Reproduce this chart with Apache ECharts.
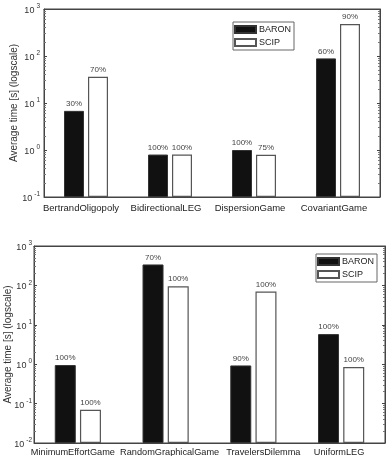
<!DOCTYPE html>
<html>
<head>
<meta charset="utf-8">
<script src="https://cdn.jsdelivr.net/npm/echarts@6/dist/echarts.min.js"></script>
<style>
  html, body { margin: 0; padding: 0; background: #fff; }
  #chart { width: 387px; height: 456px; }
</style>
</head>
<body>
<div id="chart"></div>
<script>
// data
const topCats = ['BertrandOligopoly', 'BidirectionalLEG', 'DispersionGame', 'CovariantGame']
const topBaron = [6.8, 0.8, 1.0, 89]
const topScip = [36, 0.8, 0.79, 480]
const topBaronPct = ['30%', '100%', '100%', '60%']
const topScipPct = ['70%', '100%', '75%', '90%']

const botCats = ['MinimumEffortGame', 'RandomGraphicalGame', 'TravelersDilemma', 'UniformLEG']
const botBaron = [0.95, 340, 0.93, 5.8]
const botScip = [0.07, 95, 70, 0.85]
const botBaronPct = ['100%', '70%', '90%', '100%']
const botScipPct = ['100%', '100%', '100%', '100%']

// horizontal nudge of the category labels (px), the original ones are not centred
const topShift = [-5, -4, -4, -4]
const botShift = [-5, 4, 10, -2]

const FONT = 'Liberation Sans'
const AX = '#444'

const chart = echarts.init(document.getElementById('chart'))

// 10^n labels
function powLabel(v) {
  const e = Math.round(Math.log10(v))
  return '{b|10}{s|' + e + '}'
}
const powRich = {
  b: { fontSize: 9, fontFamily: FONT, color: '#333', padding: [3, 0, 0, 0] },
  s: { fontSize: 6.5, padding: [0, 0, 5, 2], fontFamily: FONT, color: '#333' }
}

function catItems(cats, shift) {
  return cats.map((c, i) => {
    const d = shift[i] * 2
    return { value: c, textStyle: { padding: d >= 0 ? [0, 0, 0, d] : [0, -d, 0, 0] } }
  })
}

function xAxes(cats, shift, gi, margin, fs) {
  return [
    {
      type: 'category', gridIndex: gi, data: catItems(cats, shift), position: 'bottom',
      axisLine: { lineStyle: { color: AX } },
      axisTick: { alignWithLabel: true, inside: true, length: 3, lineStyle: { color: AX } },
      axisLabel: { color: '#222', fontSize: fs, fontFamily: FONT, margin: margin, interval: 0, hideOverlap: false }
    },
    {
      type: 'category', gridIndex: gi, data: cats, position: 'top',
      axisLine: { show: true, lineStyle: { color: AX } },
      axisTick: { alignWithLabel: true, inside: true, length: 3, lineStyle: { color: AX } },
      axisLabel: { show: false }
    }
  ]
}

function yAxes(gi, min, nameGap, margin) {
  const minor = { show: true, splitNumber: 9, length: 2, lineStyle: { color: '#777' } }
  return [
    {
      type: 'log', gridIndex: gi, min: min, max: 1000, logBase: 10, startValue: min,
      name: 'Average time [s] (logscale)', nameLocation: 'middle', nameGap: nameGap,
      nameMoveOverlap: false,
      nameTextStyle: { color: '#333', fontSize: 10, fontFamily: FONT },
      axisLine: { show: true, lineStyle: { color: AX } },
      axisTick: { show: true, inside: true, length: 3, lineStyle: { color: AX } },
      minorTick: minor,
      splitLine: { show: false },
      axisLabel: { formatter: powLabel, rich: powRich, color: '#333', fontSize: 9, fontFamily: FONT, margin: margin }
    },
    {
      type: 'log', gridIndex: gi, min: min, max: 1000, logBase: 10, position: 'right',
      axisLine: { show: true, lineStyle: { color: AX } },
      axisTick: { show: true, inside: true, length: 3, lineStyle: { color: AX } },
      minorTick: minor,
      splitLine: { show: false },
      axisLabel: { show: false }
    }
  ]
}

function barSeries(name, data, pct, xi, yi, filled, width) {
  return {
    name: name, type: 'bar', xAxisIndex: xi, yAxisIndex: yi,
    data: data, barWidth: width, barGap: '20%',
    itemStyle: filled
      ? { color: '#111', borderColor: '#333', borderWidth: 1 }
      : { color: '#fff', borderColor: '#555', borderWidth: 1.2 },
    label: {
      show: true, position: 'top', distance: 3,
      formatter: p => pct[p.dataIndex],
      color: '#444', fontSize: 8, fontFamily: FONT
    }
  }
}

function legend(left, top) {
  return {
    left: left, top: top, orient: 'vertical',
    itemWidth: 21, itemHeight: 7, itemGap: 4,
    padding: [3, 3, 3, 1],
    backgroundColor: '#fff', borderColor: '#666', borderWidth: 1, borderRadius: 0,
    icon: 'rect',
    textStyle: { color: '#222', fontSize: 9, fontFamily: FONT, padding: [0, 0, 0, -2] },
    data: ['BARON', 'SCIP']
  }
}

const xs1 = xAxes(topCats, topShift, 0, 6, 9.5)
const xs2 = xAxes(botCats, botShift, 1, 5, 9.2)
const ys1 = yAxes(0, 0.1, 25, 4)
const ys2 = yAxes(1, 0.01, 21, 2)

chart.setOption({
  animation: false,
  textStyle: { fontFamily: FONT },
  grid: [
    { left: 44, top: 9, width: 336, height: 188, outerBoundsMode: 'none', show: true, borderColor: AX, borderWidth: 1, backgroundColor: 'transparent' },
    { left: 34, top: 246, width: 351, height: 197, outerBoundsMode: 'none', show: true, borderColor: AX, borderWidth: 1, backgroundColor: 'transparent' }
  ],
  legend: [legend(233, 22), legend(316, 254)],
  xAxis: [...xs1, ...xs2],
  yAxis: [...ys1, ...ys2],
  series: [
    barSeries('BARON', topBaron, topBaronPct, 0, 0, true, 20),
    barSeries('SCIP', topScip, topScipPct, 0, 0, false, 20),
    barSeries('BARON', botBaron, botBaronPct, 2, 2, true, 21),
    barSeries('SCIP', botScip, botScipPct, 2, 2, false, 21)
  ]
})
</script>
</body>
</html>
